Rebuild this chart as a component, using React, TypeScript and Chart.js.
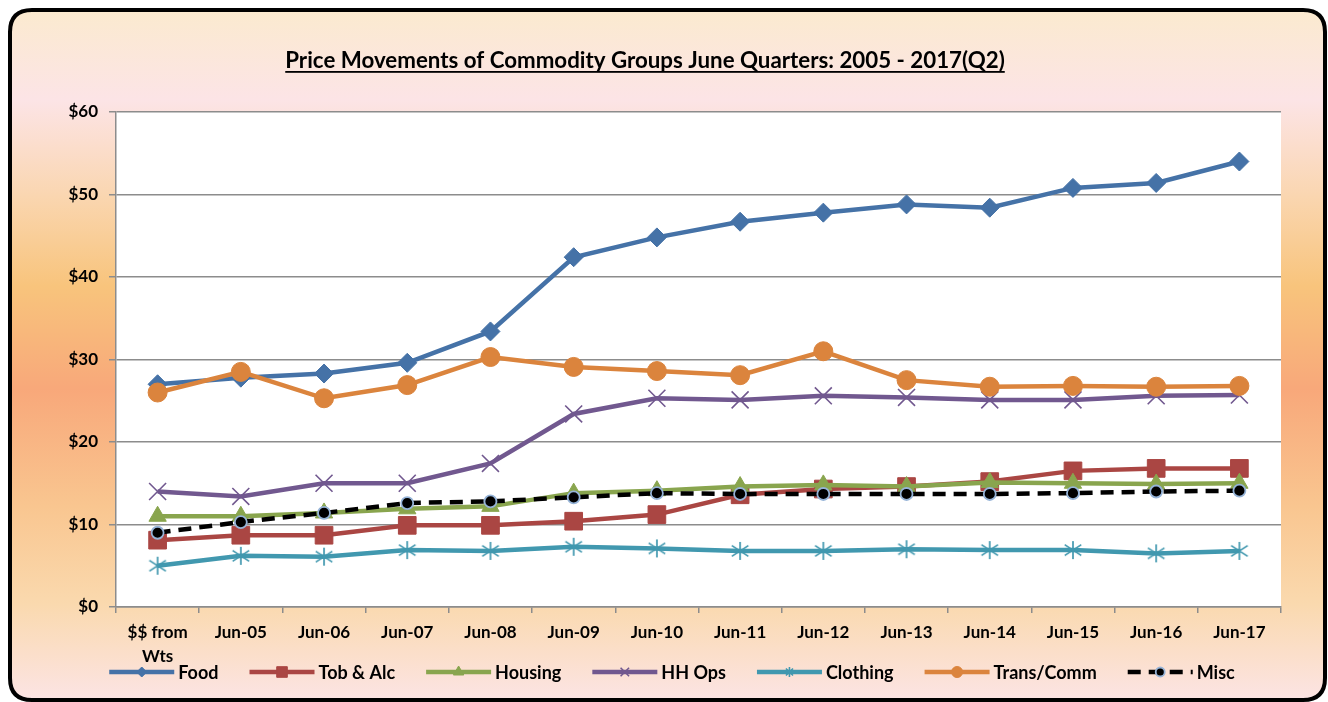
import React, { useEffect, useRef } from "react";
import { Chart, registerables } from "chart.js";
import { drawPoint } from "chart.js/helpers";

Chart.register(...registerables);

const categories: (string | string[])[] = [
  ["$$ from", "Wts"], "Jun-05", "Jun-06", "Jun-07", "Jun-08", "Jun-09", "Jun-10",
  "Jun-11", "Jun-12", "Jun-13", "Jun-14", "Jun-15", "Jun-16", "Jun-17",
];
const food = [27.0, 27.8, 28.3, 29.6, 33.4, 42.4, 44.8, 46.7, 47.8, 48.8, 48.4, 50.8, 51.4, 54.0];
const tobAlc = [8.1, 8.7, 8.7, 9.9, 9.9, 10.4, 11.2, 13.6, 14.3, 14.6, 15.2, 16.5, 16.8, 16.8];
const housing = [11.0, 11.0, 11.4, 11.9, 12.2, 13.8, 14.1, 14.6, 14.8, 14.6, 15.1, 15.0, 14.9, 15.0];
const hhOps = [14.0, 13.4, 15.0, 15.0, 17.4, 23.4, 25.3, 25.1, 25.6, 25.4, 25.1, 25.1, 25.6, 25.7];
const clothing = [5.0, 6.2, 6.1, 6.9, 6.8, 7.3, 7.1, 6.8, 6.8, 7.0, 6.9, 6.9, 6.5, 6.8];
const transComm = [26.0, 28.5, 25.3, 26.9, 30.3, 29.1, 28.6, 28.1, 31.0, 27.5, 26.7, 26.8, 26.7, 26.8];
const misc = [9.0, 10.3, 11.4, 12.6, 12.8, 13.3, 13.8, 13.7, 13.7, 13.7, 13.7, 13.8, 14.0, 14.1];

const TITLE = "Price Movements of Commodity Groups June Quarters: 2005 - 2017(Q2)";
const FONT = "Lato, 'Open Sans', sans-serif";

function starCanvas(color: string, size: number, lw: number) {
  const c = document.createElement("canvas");
  c.width = size;
  c.height = size;
  const g = c.getContext("2d") as CanvasRenderingContext2D;
  g.strokeStyle = color;
  g.lineWidth = lw;
  const m = size / 2;
  const h = size / 2 - 1;
  const dx = h * 0.92, dy = h * 0.6;
  g.beginPath();
  g.moveTo(m, m - h); g.lineTo(m, m + h);
  g.moveTo(m - dx, m - dy); g.lineTo(m + dx, m + dy);
  g.moveTo(m - dx, m + dy); g.lineTo(m + dx, m - dy);
  g.stroke();
  return c;
}

const bgPlugin = {
  id: "bgPlugin",
  beforeDraw(chart: any) {
    const { ctx, width, height, chartArea } = chart;
    ctx.save();
    ctx.fillStyle = "#ffffff";
    ctx.fillRect(0, 0, width, height);
    const x0 = 10, y0 = 10, x1 = 1325, y1 = 700, r = 22;
    const g = ctx.createLinearGradient(0, y0, 0, y1);
    g.addColorStop(0, "#FBEACF");
    g.addColorStop(0.13, "#FCE4E6");
    g.addColorStop(0.27, "#FAD6B0");
    g.addColorStop(0.4, "#F8C47C");
    g.addColorStop(0.55, "#F8A87A");
    g.addColorStop(0.72, "#F9C690");
    g.addColorStop(0.86, "#FAD9AE");
    g.addColorStop(1, "#FCE4E4");
    ctx.beginPath();
    ctx.moveTo(x0 + r, y0);
    ctx.lineTo(x1 - r, y0);
    ctx.quadraticCurveTo(x1, y0, x1, y0 + r);
    ctx.lineTo(x1, y1 - r);
    ctx.quadraticCurveTo(x1, y1, x1 - r, y1);
    ctx.lineTo(x0 + r, y1);
    ctx.quadraticCurveTo(x0, y1, x0, y1 - r);
    ctx.lineTo(x0, y0 + r);
    ctx.quadraticCurveTo(x0, y0, x0 + r, y0);
    ctx.closePath();
    ctx.fillStyle = g;
    ctx.fill();
    ctx.lineWidth = 4;
    ctx.strokeStyle = "#000000";
    ctx.stroke();
    ctx.fillStyle = "#ffffff";
    ctx.fillRect(chartArea.left, chartArea.top, chartArea.right - chartArea.left, chartArea.bottom - chartArea.top);
    ctx.restore();
  },
  afterDraw(chart: any) {
    const { ctx } = chart;
    ctx.save();
    // title
    ctx.font = `bold 22.3px ${FONT}`;
    ctx.fillStyle = "#000";
    ctx.textAlign = "center";
    ctx.textBaseline = "alphabetic";
    const tx = 645, ty = 68;
    ctx.fillText(TITLE, tx, ty);
    const tw = ctx.measureText(TITLE).width;
    ctx.fillRect(tx - tw / 2, ty + 3, tw, 1.8);

    // legend
    ctx.font = `bold 18px ${FONT}`;
    ctx.textAlign = "left";
    ctx.textBaseline = "middle";
    const ly = 672;
    const lineLen = 65, gap = 4, spacing = 31;
    const items = chart.data.datasets.map((ds: any) => ({ ds, w: lineLen + gap + ctx.measureText(ds.label).width }));
    const total = items.reduce((a: number, it: any) => a + it.w, 0) + spacing * (items.length - 1);
    let x = 672 - total / 2;
    for (const it of items) {
      const ds = it.ds;
      ctx.save();
      ctx.strokeStyle = ds.borderColor;
      ctx.lineWidth = ds.borderWidth;
      ctx.setLineDash(ds.borderDash || []);
      ctx.beginPath();
      ctx.moveTo(x, ly);
      ctx.lineTo(x + lineLen, ly);
      ctx.stroke();
      ctx.setLineDash([]);
      const cx = x + lineLen / 2;
      ctx.fillStyle = ds.pointBackgroundColor;
      ctx.strokeStyle = ds.pointBorderColor;
      ctx.lineWidth = ds.pointBorderWidth;
      const ps = ds.legendStyle || ds.pointStyle;
      drawPoint(ctx, { pointStyle: ps, radius: ds.legendMarker, borderWidth: ds.pointBorderWidth, rotation: 0 } as any, cx, ly);
      ctx.restore();
      ctx.fillStyle = "#000";
      ctx.fillText(ds.label, x + lineLen + gap, ly + 1);
      x += it.w + spacing;
    }
    ctx.restore();
  },
};

export default function App() {
  const ref = useRef<HTMLCanvasElement>(null);
  useEffect(() => {
    document.body.style.margin = "0";
    const mk = (label: string, data: number[], color: string, pointStyle: any, radius: number, order: number, extra: any = {}) => ({
      label,
      data,
      borderColor: color,
      backgroundColor: color,
      pointBackgroundColor: color,
      pointBorderColor: color,
      pointBorderWidth: 1,
      borderWidth: 4.5,
      pointStyle,
      pointRadius: radius,
      pointHoverRadius: radius,
      tension: 0,
      order,
      legendMarker: 4,
      ...extra,
    });
    const clothingColor = "#4198AF";
    const chart = new Chart(ref.current as HTMLCanvasElement, {
      type: "line",
      data: {
        labels: categories as any,
        datasets: [
          mk("Food", food, "#4572A7", "rectRot", 9.5, 7, { legendMarker: 5 }),
          mk("Tob & Alc", tobAlc, "#AA4643", "rect", 12.5, 6, { legendMarker: 7.5 }),
          mk("Housing", housing, "#89A54E", "triangle", 10, 5, { legendMarker: 6 }),
          mk("HH Ops", hhOps, "#71588F", "crossRot", 12, 4, { pointBorderWidth: 1.6, legendMarker: 6 }),
          mk("Clothing", clothing, clothingColor, starCanvas(clothingColor, 20, 1.7), 10, 3, {
            pointBorderWidth: 1.6, legendMarker: 5, legendStyle: "star",
          }),
          mk("Trans/Comm", transComm, "#DB843D", "circle", 9.5, 2, { legendMarker: 5.5 }),
          mk("Misc", misc, "#000000", "circle", 6, 1, {
            borderDash: [13, 8],
            pointBackgroundColor: "#000000",
            pointBorderColor: "#95B3D7",
            pointBorderWidth: 1.8,
            legendMarker: 4.5,
          }),
        ] as any,
      },
      options: {
        animation: false,
        responsive: false,
        layout: { padding: { left: 0, right: 47, top: 112, bottom: 30 } },
        plugins: { legend: { display: false }, title: { display: false }, tooltip: { enabled: false } },
        scales: {
          x: {
            offset: true,
            grid: { offset: true, drawOnChartArea: false, drawTicks: true, tickLength: 6, color: "#8c8c8c", lineWidth: 1.5 },
            border: { color: "#8c8c8c", width: 1.5 },
            ticks: { color: "#000", font: { family: FONT, size: 17, weight: "bold", lineHeight: 1.4 }, padding: 8, maxRotation: 0, autoSkip: false },
            afterFit: (s: any) => { s.height = 65; },
          },
          y: {
            min: 0,
            max: 60,
            ticks: { stepSize: 10, color: "#000", font: { family: FONT, size: 17, weight: "bold" }, padding: 11, callback: (v: any) => "$" + v },
            grid: { color: "#8c8c8c", lineWidth: 1.5, tickLength: 7 },
            border: { color: "#8c8c8c", width: 1.5 },
            afterFit: (s: any) => { s.width = 116; },
          },
        },
      } as any,
      plugins: [bgPlugin],
    });
    return () => chart.destroy();
  }, []);
  return (
    <div style={{ position: "fixed", left: 0, top: 0, width: 1328, height: 702 }}>
      <canvas ref={ref} width={1328} height={702} style={{ width: 1328, height: 702 }} />
    </div>
  );
}
